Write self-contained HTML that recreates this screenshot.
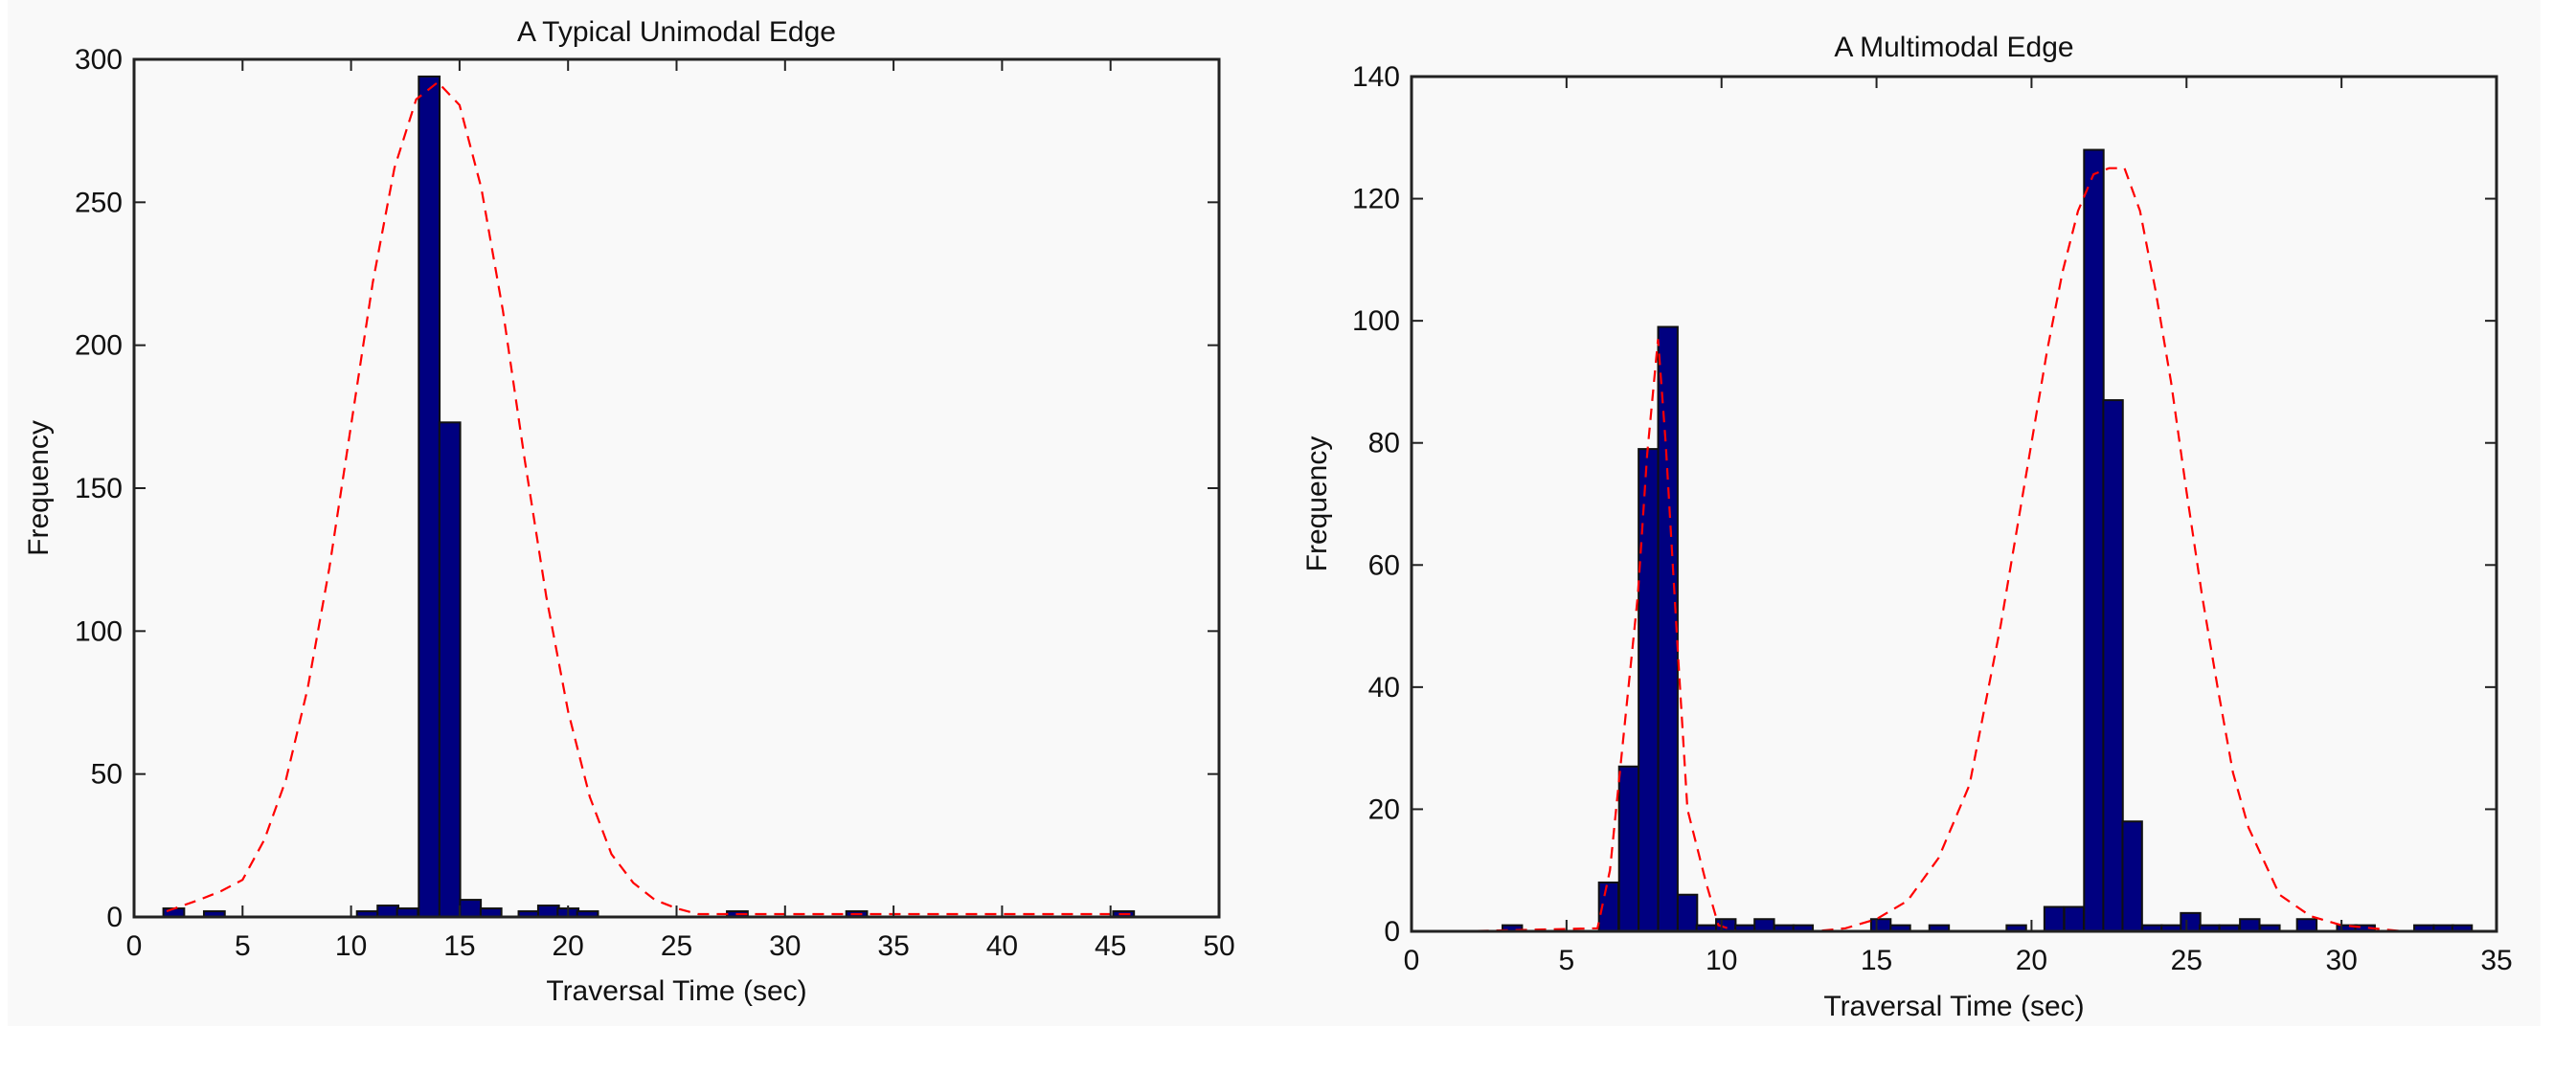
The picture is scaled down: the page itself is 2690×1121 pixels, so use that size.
<!DOCTYPE html>
<html><head><meta charset="utf-8"><style>
html,body{margin:0;padding:0;background:#fff;}
svg{display:block;}
text{font-family:"Liberation Sans",sans-serif;fill:#111;}
</style></head><body>
<svg id="fig" width="2690" height="1121" viewBox="0 0 2690 1121" xmlns="http://www.w3.org/2000/svg">
<rect x="8" y="0" width="2645" height="1072" fill="#f9f9f9"/>
</svg>
<script>
// ---- Left chart data ----
const leftBinCenters = [1.83,3.7,10.75,11.7,12.6,13.6,14.55,15.5,16.45,18.2,19.1,20.0,20.9,27.8,33.3,45.6];
const leftCounts = [3,2,2,4,3,294,173,6,3,2,4,3,2,2,2,2];
const leftBinWidth = 0.96;
const leftCurveX = [1.5,3,4,5,6,7,8,9,10,11,12,13,14,15,16,17,18,19,20,21,22,23,24,25,26,27,30,34,38,42,46];
const leftCurveY = [2,6,9,13,27,48,80,122,172,222,262,286,292,284,255,212,160,112,72,42,22,12,6,3,1,1,1,1,1,1,1];
const leftXTicks = [0,5,10,15,20,25,30,35,40,45,50];
const leftYTicks = [0,50,100,150,200,250,300];

// ---- Right chart data ----
const rightBinCenters = [3.25,6.36,7.01,7.64,8.27,8.90,9.51,10.14,10.76,11.38,12.02,12.63,15.14,15.77,17.02,19.51,20.73,21.37,22.01,22.63,23.25,23.89,24.51,25.13,25.74,26.38,27.04,27.69,28.88,30.17,30.76,32.66,33.29,33.89];
const rightCounts = [1,8,27,79,99,6,1,2,1,2,1,1,2,1,1,1,4,4,128,87,18,1,1,3,1,1,2,1,2,1,1,1,1,1];
const rightBinWidth = 0.63;
const rightCurve1X = [1.5,6.0,6.4,6.8,7.3,7.6,7.95,8.2,8.6,8.9,9.5,9.9,10.5,14,20,26,34];
const rightCurve1Y = [0,0.5,10,30,55,78,97,80,45,20,8,1,0,0,0,0,0];
const rightCurve2X = [1.5,8,13,14,15,16,17,18,19,20,20.5,21,21.5,22,22.5,23,23.5,24,24.5,25,25.5,26,26.5,27,28,29,30,31,32,34];
const rightCurve2Y = [0,0,0,0.5,2,5,12,24,50,80,95,108,118,124,125,125,118,105,90,72,55,40,26,17,6,2.5,1,0.5,0,0];
const rightXTicks = [0,5,10,15,20,25,30,35];
const rightYTicks = [0,20,40,60,80,100,120,140];

const NS = "http://www.w3.org/2000/svg";
const svg = document.getElementById('fig');
function mk(tag, attrs, parent){
  const e = document.createElementNS(NS, tag);
  for (const k in attrs) e.setAttribute(k, attrs[k]);
  (parent||svg).appendChild(e);
  return e;
}

function drawChart(cfg){
  const g = mk('g', {});
  
  
  const X = v => cfg.x0 + (v - cfg.xmin) / (cfg.xmax - cfg.xmin) * (cfg.x1 - cfg.x0);
  const Y = v => cfg.y0 - (v - cfg.ymin) / (cfg.ymax - cfg.ymin) * (cfg.y0 - cfg.y1);
  cfg.centers.forEach((c, i) => {
    const r = mk('rect', {x: X(c - cfg.bw/2), y: Y(cfg.counts[i]), width: X(c + cfg.bw/2) - X(c - cfg.bw/2), height: Y(0) - Y(cfg.counts[i]), fill: '#000080', stroke: '#111', 'stroke-width': 2}, g);
    
    
  });
  cfg.curves.forEach(cv => {
    const pts = cv[0].map((xv, i) => X(xv).toFixed(1) + ',' + Y(cv[1][i]).toFixed(1)).join(' ');
    const p = mk('polyline', {points: pts, fill: 'none', stroke: '#ff0000', 'stroke-width': 2.2, 'stroke-dasharray': '12 8'}, g);
    
    
  });
  const box = mk('rect', {x: cfg.x0, y: cfg.y1, width: cfg.x1 - cfg.x0, height: cfg.y0 - cfg.y1, fill: 'none', stroke: '#222', 'stroke-width': 3}, g);
  
  
  cfg.xt.forEach(t => {
    const x = X(t);
    mk('line', {x1: x, x2: x, y1: cfg.y0, y2: cfg.y0 - 12, stroke: '#222', 'stroke-width': 2}, g);
    mk('line', {x1: x, x2: x, y1: cfg.y1, y2: cfg.y1 + 12, stroke: '#222', 'stroke-width': 2}, g);
    const tx = mk('text', {x: x, y: cfg.y0 + 40, 'font-size': 30, 'text-anchor': 'middle'}, g);
    tx.textContent = t;
    
    
  });
  cfg.yt.forEach(t => {
    const y = Y(t);
    mk('line', {x1: cfg.x0, x2: cfg.x0 + 12, y1: y, y2: y, stroke: '#222', 'stroke-width': 2}, g);
    mk('line', {x1: cfg.x1, x2: cfg.x1 - 12, y1: y, y2: y, stroke: '#222', 'stroke-width': 2}, g);
    const tx = mk('text', {x: cfg.x0 - 12, y: y + 10, 'font-size': 30, 'text-anchor': 'end'}, g);
    tx.textContent = t;
    
    
  });
  const cx = (cfg.x0 + cfg.x1) / 2, cy = (cfg.y0 + cfg.y1) / 2;
  const title = mk('text', {x: cx, y: cfg.titleY, 'font-size': 30, 'text-anchor': 'middle'}, g);
  title.textContent = cfg.title;
  
  
  const xl = mk('text', {x: cx, y: cfg.xlabelY, 'font-size': 30, 'text-anchor': 'middle'}, g);
  xl.textContent = 'Traversal Time (sec)';
  
  
  const yl = mk('text', {x: cfg.ylabelX, y: cy, 'font-size': 30, 'text-anchor': 'middle', transform: 'rotate(-90 ' + cfg.ylabelX + ' ' + cy + ')'}, g);
  yl.textContent = 'Frequency';
  
  
}

drawChart({name: 'unimodal-chart', x0: 140, x1: 1273, y0: 958, y1: 62, xmin: 0, xmax: 50, ymin: 0, ymax: 300,
  centers: leftBinCenters, counts: leftCounts, bw: leftBinWidth,
  curves: [[leftCurveX, leftCurveY]], xt: leftXTicks, yt: leftYTicks,
  title: 'A Typical Unimodal Edge', titleY: 43, xlabelY: 1045, ylabelX: 50});
drawChart({name: 'multimodal-chart', x0: 1474, x1: 2607, y0: 973, y1: 80, xmin: 0, xmax: 35, ymin: 0, ymax: 140,
  centers: rightBinCenters, counts: rightCounts, bw: rightBinWidth,
  curves: [[rightCurve1X, rightCurve1Y], [rightCurve2X, rightCurve2Y]], xt: rightXTicks, yt: rightYTicks,
  title: 'A Multimodal Edge', titleY: 59, xlabelY: 1061, ylabelX: 1385});
</script>
</body></html>
